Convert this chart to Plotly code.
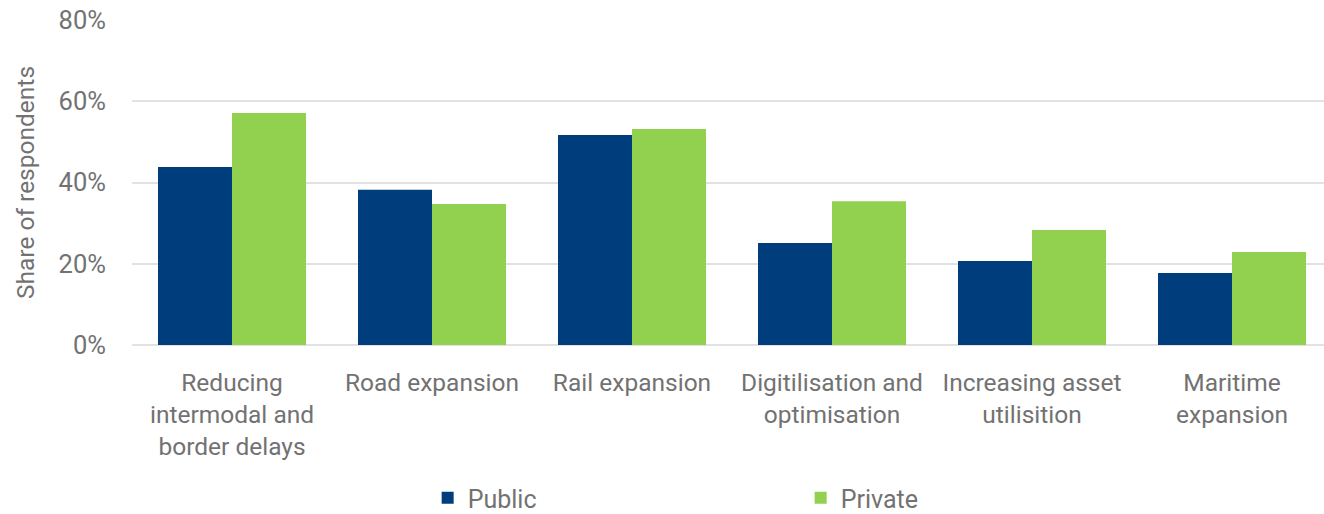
import plotly.graph_objects as go

categories = [
    "Reducing<br>intermodal and<br>border delays",
    "Road expansion",
    "Rail expansion",
    "Digitilisation and<br>optimisation",
    "Increasing asset<br>utilisition",
    "Maritime<br>expansion",
]
public = [43.8, 38.2, 51.7, 25.1, 20.7, 17.7]
private = [57.1, 34.7, 53.2, 35.4, 28.3, 22.9]
y_ticks = [0, 20, 40, 60, 80]
y_tick_labels = [f"{v}%" for v in y_ticks]

FONT = "Roboto, 'Noto Sans', sans-serif"
GREY = "#727272"

fig = go.Figure()
fig.add_trace(go.Bar(name="Public", x=categories, y=public,
                     marker=dict(color="#003d7c", line=dict(width=0))))
fig.add_trace(go.Bar(name="Private", x=categories, y=private,
                     marker=dict(color="#92d050", line=dict(width=0))))

fig.update_layout(
    width=1324, height=514,
    margin=dict(l=132, r=0, t=20, b=169),
    paper_bgcolor="white", plot_bgcolor="white",
    barmode="group", bargap=0.26, bargroupgap=0,
    font=dict(family=FONT, size=24, color=GREY),
    showlegend=True,
    legend=dict(orientation="h", xref="container", yref="container",
                x=0.323, y=0.031, xanchor="left", yanchor="middle",
                entrywidth=328, font=dict(size=25, color=GREY), itemwidth=30),
    xaxis=dict(range=[-0.5, 5.46], showline=False, automargin=False,
               ticks="outside", ticklen=16, tickcolor="rgba(0,0,0,0)",
               tickfont=dict(size=24.5, color=GREY)),
    yaxis=dict(range=[0, 80], tickvals=y_ticks, ticktext=y_tick_labels,
               automargin=False,
               showgrid=True, gridcolor="#e2e2e2", gridwidth=2,
               zeroline=True, zerolinecolor="#e2e2e2", zerolinewidth=2,
               tickfont=dict(size=25.5, color=GREY), ticks="outside", ticklen=20,
               tickcolor="rgba(0,0,0,0)",
               title=dict(text="Share of respondents", standoff=16,
                          font=dict(size=24.5, color=GREY))),
)

fig.write_html("out.html")
